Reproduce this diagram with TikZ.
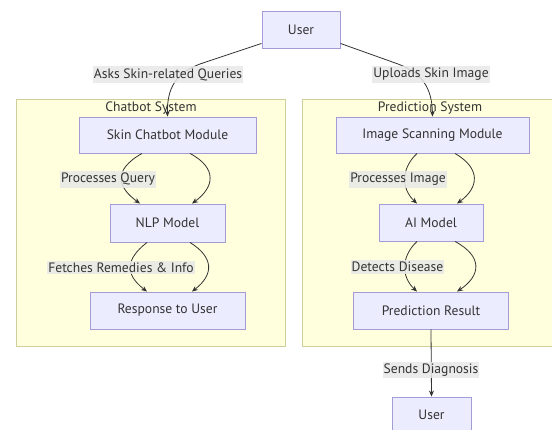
\documentclass[tikz,border=0pt]{standalone}
\usepackage{fontspec}
\setmainfont{PT Sans}
\usetikzlibrary{arrows.meta,calc}
\definecolor{nodefill}{HTML}{ECECFF}
\definecolor{nodeline}{HTML}{A59BD6}
\definecolor{clusterfill}{HTML}{FFFFDE}
\definecolor{clusterline}{HTML}{CFCF9C}
\definecolor{ink}{HTML}{333333}
\definecolor{lblbg}{HTML}{E8E8E8}
\tikzset{
  txt/.style={font=\fontsize{13.6}{15}\selectfont},
  box/.style={draw=nodeline, fill=nodefill, line width=0.9pt, text=ink,
    inner sep=0pt, txt},
  cluster/.style={draw=clusterline, fill=clusterfill, line width=0.9pt},
  ctitle/.style={text=ink, inner sep=0pt, txt},
  flow/.style={draw=ink, line width=0.8pt, -{Stealth[length=6pt,width=5pt]}},
  lbl/.style={fill=lblbg, fill opacity=0.85, text opacity=1, text=ink,
    inner xsep=1pt, inner ysep=2pt, txt}
}
\begin{document}
\begin{tikzpicture}[x=1pt, y=-1pt]
  \useasboundingbox (0,0) rectangle (552,430);
  \fill[white] (0,0) rectangle (552,430);

  % subsystem frames
  \draw[cluster] (16,99) rectangle (285,346);
  \draw[cluster] (302,99) rectangle (560,346);
  \node[ctitle] (chattitle) at (151,108) {Chatbot System};
  \node[ctitle] (predtitle) at (430,108) {Prediction System};

  % nodes
  \node[box, minimum width=78pt, minimum height=37pt] (user1) at (301,29.5) {User};
  \node[box, minimum width=177pt, minimum height=36pt] (skin) at (167.5,135) {Skin Chatbot Module};
  \node[box, minimum width=115pt, minimum height=38pt] (nlp) at (167.5,223) {NLP Model};
  \node[box, minimum width=155pt, minimum height=37pt] (resp) at (167.5,310.5) {Response to User};
  \node[box, minimum width=193pt, minimum height=36pt] (scan) at (432.5,135) {Image Scanning Module};
  \node[box, minimum width=104pt, minimum height=37pt] (ai) at (431,222.5) {AI Model};
  \node[box, minimum width=155pt, minimum height=37pt] (predres) at (431,310.5) {Prediction Result};
  \node[box, minimum width=79pt, minimum height=36pt] (user2) at (431.5,415) {User};

  % user to the two subsystems
  \draw[flow] ([yshift=5pt]user1.south west) -- (200,64)
    .. controls (176,73) and (167,88) .. (skin.north);
  \draw[flow] ([yshift=5pt]user1.south east) -- (398,64)
    .. controls (422,73) and (432,88) .. (scan.north);

  % chatbot pipeline
  \draw[flow] ([xshift=-25.5pt]skin.south) .. controls +(-30,17) and +(-22,-16) .. ([xshift=-27.5pt]nlp.north);
  \draw[flow] ([xshift=22.5pt]skin.south) .. controls +(28,15) and +(22,-16) .. ([xshift=24.5pt]nlp.north);
  \draw[flow] ([xshift=-20.5pt]nlp.south) .. controls +(-22,17) and +(-22,-17) .. ([xshift=-20.5pt]resp.north);
  \draw[flow] ([xshift=22.5pt]nlp.south) .. controls +(24,15) and +(22,-17) .. ([xshift=24.5pt]resp.north);

  % prediction pipeline
  \draw[flow] ([xshift=-15.5pt]scan.south) .. controls +(-16,15) and +(-16,-15) .. ([xshift=-14pt]ai.north);
  \draw[flow] ([xshift=22.5pt]scan.south) .. controls +(26,15) and +(22,-16) .. ([xshift=26pt]ai.north);
  \draw[flow] ([xshift=-14pt]ai.south) .. controls +(-16,15) and +(-16,-15) .. ([xshift=-14pt]predres.north);
  \draw[flow] ([xshift=24pt]ai.south) .. controls +(28,15) and +(24,-16) .. ([xshift=26pt]predres.north);

  % result back to the user
  \draw[flow] (predres.south) -- (user2.north);

  % edge labels
  \node[lbl] (l1) at (168,74.5) {Asks Skin-related Queries};
  \node[lbl] (l2) at (431,74.5) {Uploads Skin Image};
  \node[lbl] (l3) at (108,179.5) {Processes Query};
  \node[lbl] (l4) at (121,267.5) {Fetches Remedies \& Info};
  \node[lbl] (l5) at (398,179.5) {Processes Image};
  \node[lbl] (l6) at (397.5,267) {Detects Disease};
  \node[lbl] (l7) at (431,370) {Sends Diagnosis};
\end{tikzpicture}
\end{document}
